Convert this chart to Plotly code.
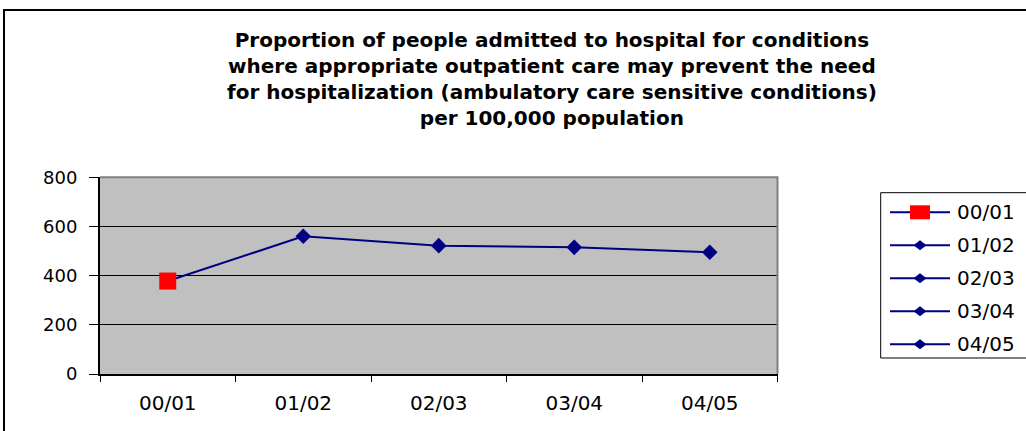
import plotly.graph_objects as go

# Fiscal years and admissions per 100,000 population
years = ["00/01", "01/02", "02/03", "03/04", "04/05"]
admissions = [378, 560, 522, 515, 495]
y_ticks = [0, 200, 400, 600, 800]

title_lines = [
    "Proportion of people admitted to hospital for conditions",
    "where appropriate outpatient care may prevent the need",
    "for hospitalization (ambulatory care sensitive conditions)",
    "per 100,000 population",
]

W, H = 1026, 431
NAVY = "#000080"
FONT = "DejaVu Sans"


def px(x):
    return x / W


def py(y):
    return 1 - y / H


# plot area in pixels
PL, PR, PT, PB = 100, 777.5, 177.3, 374

marker_symbols = ["square"] + ["diamond"] * (len(years) - 1)
marker_colors = ["#FF0000"] + [NAVY] * (len(years) - 1)
marker_sizes = [17] + [12] * (len(years) - 1)

fig = go.Figure()
fig.add_trace(go.Scatter(
    x=years, y=admissions, mode="lines+markers",
    line=dict(color=NAVY, width=2),
    marker=dict(symbol=marker_symbols, color=marker_colors, size=marker_sizes,
                opacity=1, line=dict(width=0)),
    showlegend=False, cliponaxis=False,
))

shapes = []
# outer chart frame
shapes.append(dict(type="rect", xref="paper", yref="paper",
                   x0=px(4), x1=px(W + 10), y0=py(H + 10), y1=py(10),
                   line=dict(color="black", width=2), layer="above"))
# plot-area top and right edges
shapes.append(dict(type="path", xref="paper", yref="paper",
                   path=f"M {px(PL)},{py(PT)} L {px(PR)},{py(PT)} L {px(PR)},{py(PB)}",
                   line=dict(color="#808080", width=2), layer="above"))

# legend frame and entries
LX0, LY0, LY1 = 880.7, 192.7, 358
shapes.append(dict(type="rect", xref="paper", yref="paper",
                   x0=px(LX0), x1=px(W + 10), y0=py(LY1), y1=py(LY0),
                   line=dict(color="black", width=1), layer="above"))
annotations = []
row0, row_gap = 212.3, 33
for i, name in enumerate(years):
    cy = row0 + i * row_gap
    shapes.append(dict(type="line", xref="paper", yref="paper",
                       x0=px(890), x1=px(950), y0=py(cy), y1=py(cy),
                       line=dict(color=NAVY, width=2)))
    if marker_symbols[i] == "square":
        shapes.append(dict(type="rect", xref="paper", yref="paper",
                           x0=px(910), x1=px(930), y0=py(cy + 7), y1=py(cy - 7),
                           fillcolor=marker_colors[i], line=dict(width=0)))
    else:
        cx = 920
        path = (f"M {px(cx - 6.5)},{py(cy)} L {px(cx)},{py(cy - 5)} "
                f"L {px(cx + 6.5)},{py(cy)} L {px(cx)},{py(cy + 5)} Z")
        shapes.append(dict(type="path", xref="paper", yref="paper", path=path,
                           fillcolor=marker_colors[i], line=dict(width=0)))
    annotations.append(dict(text=name, x=px(955), y=py(cy), xref="paper", yref="paper",
                            xanchor="left", yanchor="middle", showarrow=False,
                            font=dict(family=FONT, size=20, color="black")))

annotations.append(dict(
    text="<b>" + "<br>".join(title_lines) + "</b>",
    x=px(552), y=py(79), xref="paper", yref="paper",
    xanchor="center", yanchor="middle", showarrow=False, align="center",
    font=dict(family=FONT, size=20, color="black"),
))

fig.update_layout(
    width=W, height=H,
    margin=dict(l=0, r=0, t=0, b=0),
    paper_bgcolor="white",
    plot_bgcolor="#C0C0C0",
    showlegend=False,
    shapes=shapes,
    annotations=annotations,
    xaxis=dict(
        domain=[px(PL), px(PR)], type="category", range=[-0.5, len(years) - 0.5],
        tickson="boundaries", ticks="outside", ticklen=6, tickcolor="black",
        showline=True, linecolor="black", linewidth=2, showgrid=False,
        tickfont=dict(family=FONT, size=20, color="black"), automargin=False,
        ticklabelstandoff=10,
    ),
    yaxis=dict(
        domain=[py(PB), py(PT)], range=[0, 800], tickvals=y_ticks,
        ticks="outside", ticklen=9, tickcolor="black",
        showline=True, linecolor="black", linewidth=2,
        showgrid=True, gridcolor="black", gridwidth=1, zeroline=False,
        tickfont=dict(family=FONT, size=18, color="black"), automargin=False,
        ticklabelstandoff=8,
    ),
)

fig.write_html("out.html")
